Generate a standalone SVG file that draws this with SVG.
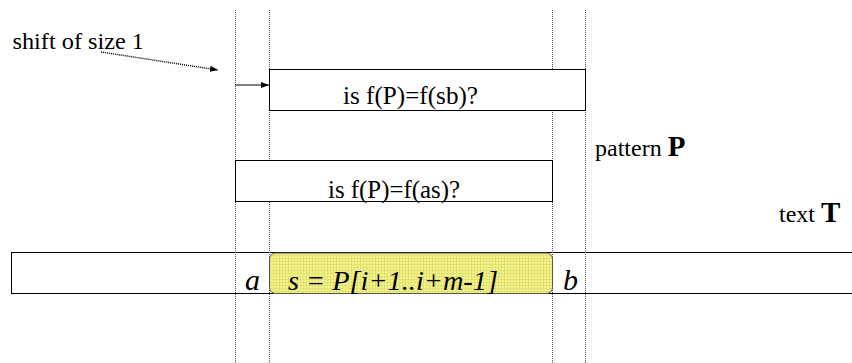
<svg xmlns="http://www.w3.org/2000/svg" width="852" height="363" viewBox="0 0 852 363">
<style>
.guide{stroke:#555;stroke-width:1;stroke-dasharray:1,1;fill:none}
.box{fill:#fff;stroke:#000;stroke-width:1}
.t{font-family:"Liberation Serif",serif;fill:#000}
</style>
<defs>
<pattern id="grid" width="3" height="3" patternUnits="userSpaceOnUse">
<rect width="3" height="3" fill="#f2f288"/>
<path d="M0 0.5H3M0.5 0V3" stroke="#d8d86a" stroke-width="0.6"/>
</pattern>
<marker id="ah" markerWidth="8" markerHeight="6" refX="8" refY="3" orient="auto" markerUnits="userSpaceOnUse">
<path d="M0 0L8 3L0 6z" fill="#000"/>
</marker>
</defs>
<rect width="852" height="363" fill="#fff"/>
<g id="text-bar">
<rect class="box" x="11.5" y="252.5" width="850" height="41"/>
</g>
<g id="guides">
<line class="guide" x1="235.5" y1="10" x2="235.5" y2="363"/>
<line class="guide" x1="269.5" y1="10" x2="269.5" y2="363"/>
<line class="guide" x1="552.5" y1="10" x2="552.5" y2="363"/>
<line class="guide" x1="585.5" y1="10" x2="585.5" y2="363"/>
</g>
<g id="box-sb">
<rect class="box" x="269.5" y="69.5" width="316" height="41"/>
<text class="t" x="343" y="104" font-size="25" textLength="135" lengthAdjust="spacingAndGlyphs">is f(P)=f(sb)?</text>
</g>
<g id="box-as">
<rect class="box" x="235.5" y="160.5" width="317" height="41"/>
<text class="t" x="328" y="198" font-size="25" textLength="132" lengthAdjust="spacingAndGlyphs">is f(P)=f(as)?</text>
</g>
<g id="s">
<rect x="269.5" y="253" width="283" height="40.5" rx="6" fill="url(#grid)" stroke="#555" stroke-width="1"/>
<text class="t" x="288" y="290" font-size="28" font-style="italic" textLength="210" lengthAdjust="spacingAndGlyphs">s = P[i+1..i+m-1]</text>
</g>
<g id="a"><text class="t" x="252.5" y="290" font-size="30" font-style="italic" text-anchor="middle">a</text></g>
<g id="b"><text class="t" x="570.5" y="290" font-size="30" font-style="italic" text-anchor="middle">b</text></g>
<g id="label-shift"><text class="t" x="12.5" y="48.5" font-size="24" textLength="131.5" lengthAdjust="spacingAndGlyphs">shift of size 1</text></g>
<g id="label-pattern"><text class="t" x="595" y="155.5" font-size="24">pattern <tspan font-size="29" font-weight="bold">P</tspan></text></g>
<g id="label-text"><text class="t" x="779" y="221.5" font-size="24">text <tspan font-size="29" font-weight="bold">T</tspan></text></g>
<g id="connectors">
<line x1="101" y1="52" x2="218" y2="70" stroke="#000" stroke-width="1.5" stroke-dasharray="1,1" marker-end="url(#ah)"/>
<line x1="235" y1="85" x2="269" y2="85" stroke="#000" stroke-width="1.2" marker-end="url(#ah)"/>
</g>
</svg>
